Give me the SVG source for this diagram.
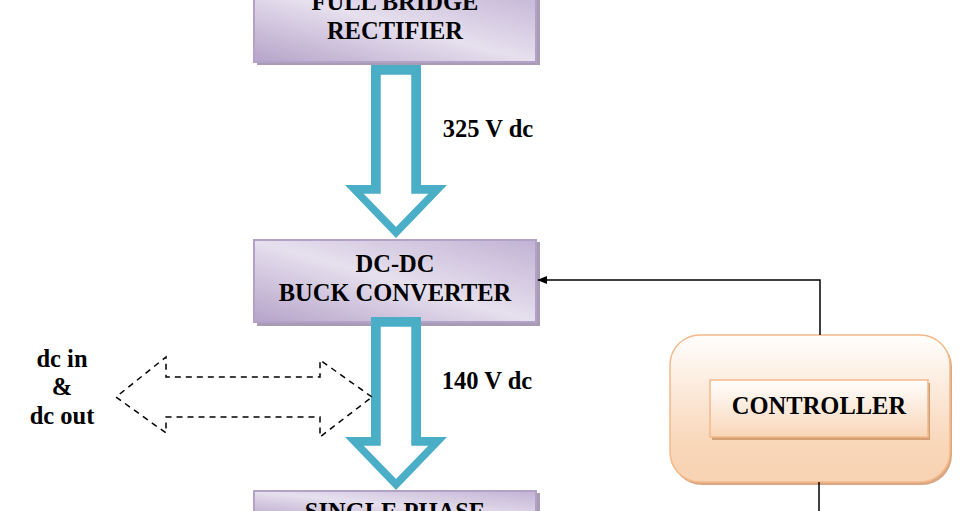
<svg xmlns="http://www.w3.org/2000/svg" width="975" height="511" viewBox="0 0 975 511">
<defs>
<linearGradient id="pg" x1="0" y1="1" x2="1" y2="0"><stop offset="0" stop-color="#b6a3c9"/><stop offset="0.5" stop-color="#e6e0ee"/><stop offset="1" stop-color="#c2b2d4"/></linearGradient>
<linearGradient id="og" x1="0" y1="0" x2="0" y2="1"><stop offset="0" stop-color="#fffefd"/><stop offset="0.75" stop-color="#f9d6b8"/><stop offset="1" stop-color="#f8d3b4"/></linearGradient>
<linearGradient id="og2" x1="0" y1="0" x2="0" y2="1"><stop offset="0" stop-color="#fffefd"/><stop offset="1" stop-color="#f9d6b8"/></linearGradient>
<marker id="ah" markerWidth="10" markerHeight="8" refX="9" refY="4" orient="auto" markerUnits="userSpaceOnUse"><path d="M0,0 L10,4 L0,8 z" fill="#000"/></marker>
</defs>
<style>
.box{fill:url(#pg);stroke:#b3a2c8;stroke-width:2}
.sh{fill:#a99bb3}
.t{font-family:"Liberation Serif",serif;font-weight:bold;font-size:24.5px;text-anchor:middle;fill:#000}
.fat{fill:#4aaec6;stroke:none}
.inn{fill:#fff;stroke:#4aaec6;stroke-width:1.5}
</style>
<g id="rectifier">
<rect class="sh" x="257" y="-10" width="283" height="75"/>
<rect class="box" x="254" y="-12" width="282" height="74"/>
<text class="t" x="395" y="10">FULL BRIDGE</text>
<text class="t" x="395" y="39">RECTIFIER</text>
</g>
<g id="buck">
<rect class="sh" x="257" y="242" width="283" height="84"/>
<rect class="box" x="254" y="240" width="282" height="82"/>
<text class="t" x="395" y="272">DC-DC</text>
<text class="t" x="395" y="301">BUCK CONVERTER</text>
</g>
<g id="inverter">
<rect class="sh" x="257" y="493" width="283" height="30"/>
<rect class="box" x="254" y="491" width="282" height="30"/>
<text class="t" x="395" y="520">SINGLE PHASE</text>
</g>
<g id="controller">
<rect x="672" y="337" width="280" height="148" rx="30" fill="#d9a882"/>
<rect x="670" y="335" width="280" height="147" rx="30" fill="url(#og)" stroke="#f3b98a" stroke-width="1.5"/>
<rect x="712" y="383" width="218" height="57" fill="#d39e74"/>
<rect x="710" y="380" width="218" height="57" fill="url(#og2)" stroke="#f3b98a" stroke-width="1.5"/>
<text class="t" x="819" y="414">CONTROLLER</text>
</g>
<g id="labels">
<text class="t" x="488" y="137">325 V dc</text>
<text class="t" x="487" y="389">140 V dc</text>
<text class="t" x="62" y="367">dc in</text>
<text class="t" x="62" y="395">&amp;</text>
<text class="t" x="62" y="424">dc out</text>
</g>
<g id="connectors">
<path class="fat" d="M371,65 H421 V185 H447 L396,238 L345,185 H371 Z"/>
<path class="inn" d="M380,74 H412 V193 H430 L396,228 L362,193 H380 Z"/>
<path class="fat" d="M371,317 H421 V437 H447 L396,490 L345,437 H371 Z"/>
<path class="inn" d="M380,326 H412 V445 H430 L396,480 L362,445 H380 Z"/>
<path d="M372,397 L320,360 V377 H166 V357 L116,397 L166,433 V417 H320 V437 Z" fill="none" stroke="#000" stroke-width="1.5" stroke-dasharray="6,5"/>
<path d="M820,335 V280 H538" fill="none" stroke="#000" stroke-width="1.5" marker-end="url(#ah)"/>
<path d="M819,482 V511" fill="none" stroke="#000" stroke-width="1.5"/>
</g>
</svg>
